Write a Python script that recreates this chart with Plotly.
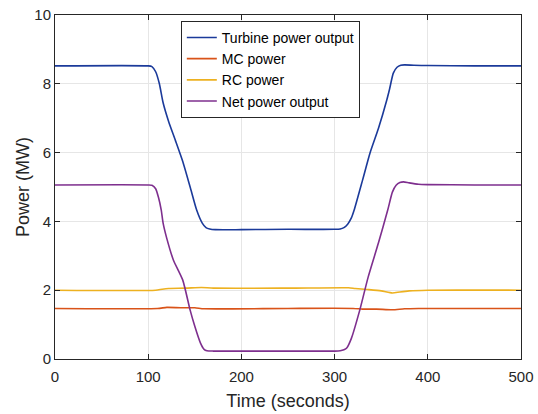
import plotly.graph_objects as go

# Time axis points (seconds) and values (MW)
turbine_t = [0, 100, 104, 108, 112, 116, 122, 129, 137, 145, 152, 158, 162, 166, 172, 200, 250, 300, 306, 310, 314, 318, 321, 330, 338, 347, 356, 359, 363, 367, 371, 375, 385, 400, 450, 500]
turbine_v = [8.52, 8.52, 8.50, 8.35, 8.0, 7.45, 6.9, 6.37, 5.75, 5.0, 4.33, 3.95, 3.82, 3.78, 3.76, 3.76, 3.77, 3.77, 3.78, 3.82, 3.92, 4.1, 4.33, 5.2, 5.99, 6.7, 7.53, 7.85, 8.31, 8.48, 8.54, 8.55, 8.54, 8.53, 8.52, 8.52]

mc_t = [0, 110, 120, 135, 150, 160, 250, 320, 330, 345, 362, 375, 390, 500]
mc_v = [1.47, 1.47, 1.50, 1.49, 1.49, 1.46, 1.47, 1.47, 1.45, 1.45, 1.43, 1.46, 1.47, 1.47]

rc_t = [0, 108, 115, 122, 140, 157, 170, 250, 315, 322, 335, 350, 362, 370, 380, 400, 500]
rc_v = [2.0, 2.0, 2.03, 2.05, 2.06, 2.08, 2.06, 2.06, 2.07, 2.05, 2.02, 1.98, 1.92, 1.95, 1.98, 2.0, 2.0]

net_t = [0, 100, 104, 108, 111, 114, 116, 120, 127, 137, 145, 150, 156, 160, 163, 170, 200, 250, 300, 306, 310, 313, 318, 327, 336, 347, 357, 362, 366, 370, 374, 380, 390, 400, 450, 500]
net_v = [5.06, 5.06, 5.05, 4.95, 4.7, 4.33, 3.95, 3.5, 2.88, 2.3, 1.42, 0.95, 0.47, 0.28, 0.24, 0.23, 0.23, 0.23, 0.23, 0.24, 0.27, 0.32, 0.6, 1.42, 2.38, 3.37, 4.33, 4.85, 5.05, 5.13, 5.15, 5.12, 5.08, 5.07, 5.06, 5.06]

x_ticks = [0, 100, 200, 300, 400, 500]
y_ticks = [0, 2, 4, 6, 8, 10]

series = [
    ("Turbine power output", turbine_t, turbine_v, "#1B3A9A"),
    ("MC power", mc_t, mc_v, "#D95319"),
    ("RC power", rc_t, rc_v, "#EDB120"),
    ("Net power output", net_t, net_v, "#7E2F8E"),
]

fig = go.Figure()
for name, t, v, c in series:
    fig.add_trace(go.Scatter(x=t, y=v, mode="lines", name=name,
                             line=dict(color=c, width=1.6, shape="spline", smoothing=0.6)))

axis_common = dict(showline=True, linecolor="#262626", linewidth=1, mirror="ticks",
                   ticks="inside", ticklen=5, tickcolor="#262626", automargin=False,
                   ticklabeloverflow="allow",
                   showgrid=True, gridcolor="#E6E6E6", gridwidth=1, zeroline=False,
                   tickfont=dict(family="Liberation Sans, Arial", size=15, color="#262626"))

fig.update_layout(
    width=538, height=414,
    margin=dict(l=55, r=17, t=15, b=55, autoexpand=False),
    paper_bgcolor="white", plot_bgcolor="white",
    font=dict(family="Liberation Sans, Arial", color="#262626"),
    xaxis=dict(range=[0, 500], tickvals=x_ticks, ticktext=[str(v) for v in x_ticks],
               ticklabelstandoff=4,
               title=dict(text="Time (seconds)", font=dict(size=18), standoff=10), **axis_common),
    yaxis=dict(range=[0, 10], tickvals=y_ticks, ticktext=[str(v) for v in y_ticks],
               title=dict(text="Power (MW)", font=dict(size=18), standoff=0), **axis_common),
    legend=dict(x=0.27, y=0.983, xanchor="left", yanchor="top",
                bgcolor="white", bordercolor="#262626", borderwidth=1,
                font=dict(size=14, color="black"), tracegroupgap=0),
    showlegend=True,
)

fig.write_html("out.html")
